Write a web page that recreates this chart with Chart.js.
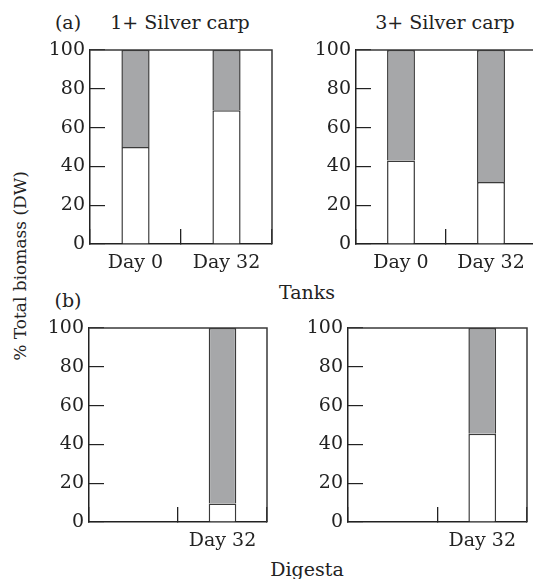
<!DOCTYPE html>
<html>
<head>
<meta charset="utf-8">
<script src="https://cdn.jsdelivr.net/npm/chart.js@4"></script>
<style>
  body { margin: 0; background: #fff; }
  #page { position: relative; width: 533px; height: 579px; overflow: hidden;
          font-family: 'DejaVu Serif', serif; font-size: 19px; color: #222; }
  .lbl { position: absolute; white-space: nowrap; transform: translate(-50%, -50%); }
  canvas { position: absolute; }
</style>
</head>
<body>
<div id="page">
  <div class="lbl" style="left:68px;top:22px">(a)</div>
  <div class="lbl" style="left:180px;top:22px">1+ Silver carp</div>
  <div class="lbl" style="left:445px;top:22px">3+ Silver carp</div>
  <div class="lbl" style="left:307px;top:292px">Tanks</div>
  <div class="lbl" style="left:68px;top:300px">(b)</div>
  <div class="lbl" style="left:307px;top:569px">Digesta</div>
  <div class="lbl" style="left:20px;top:266px;font-size:17px;transform:translate(-50%,-50%) rotate(-90deg)">% Total biomass (DW)</div>

  <canvas id="tanks-1"></canvas>
  <canvas id="tanks-3"></canvas>
  <canvas id="digesta-1"></canvas>
  <canvas id="digesta-3"></canvas>
</div>

<script>
// --- Données (% de la biomasse totale, poids sec) ---
const tankCategories    = ['Day 0', 'Day 32'];
const digestaCategories = ['', 'Day 32'];

const tanks1White   = [50, 69];
const tanks1Grey    = [50, 31];
const tanks3White   = [43, 32];
const tanks3Grey    = [57, 68];
const digesta1White = [null, 9.5];
const digesta1Grey  = [null, 90.5];
const digesta3White = [null, 45.5];
const digesta3Grey  = [null, 54.5];

const yTicks = [0, 20, 40, 60, 80, 100];

// --- Style ---
const COLORS = {
  ink:   '#222',
  edge:  '#3a3a3a',
  grey:  '#a6a7a9',
  white: '#ffffff',
};
const FONT = { family: 'DejaVu Serif', size: 19 };

const Y_AXIS_W  = 60;   // largeur réservée à l'axe y
const X_AXIS_H  = 40;   // hauteur réservée à l'axe x
const PAD_TOP   = 12;
const PAD_RIGHT = 2;

// cadre haut + droite
const framePlugin = {
  id: 'frame',
  afterDatasetsDraw(chart) {
    const { ctx, chartArea: a } = chart;
    ctx.save();
    ctx.strokeStyle = COLORS.edge;
    ctx.lineWidth = 1.5;
    ctx.beginPath();
    ctx.moveTo(a.left, a.top);
    ctx.lineTo(a.right, a.top);
    ctx.lineTo(a.right, a.bottom);
    ctx.stroke();
    ctx.restore();
  },
};

function renderPanel(id, plotBox, labels, white, grey) {
  const canvas = document.getElementById(id);
  canvas.width  = plotBox.width + Y_AXIS_W + PAD_RIGHT;
  canvas.height = plotBox.height + PAD_TOP + X_AXIS_H;
  canvas.style.left = (plotBox.left - Y_AXIS_W) + 'px';
  canvas.style.top  = (plotBox.top - PAD_TOP) + 'px';

  const barStyle = {
    borderColor: COLORS.edge,
    borderWidth: 1.5,
    categoryPercentage: 1,
    barPercentage: 0.31,
  };

  new Chart(canvas, {
    type: 'bar',
    data: {
      labels,
      datasets: [
        { data: white, backgroundColor: COLORS.white, ...barStyle },
        { data: grey,  backgroundColor: COLORS.grey,  ...barStyle },
      ],
    },
    options: {
      responsive: false,
      animation: false,
      layout: { padding: { top: PAD_TOP, right: PAD_RIGHT, left: 0, bottom: 0 } },
      plugins: { legend: { display: false }, tooltip: { enabled: false } },
      scales: {
        x: {
          stacked: true,
          grid: { offset: true, drawOnChartArea: false, tickLength: -15, color: COLORS.ink, lineWidth: 1.3 },
          border: { color: COLORS.ink, width: 1.5 },
          ticks: { color: COLORS.ink, font: FONT, padding: 23, maxRotation: 0 },
          afterFit: s => {
            s.height = X_AXIS_H;
            s.paddingLeft = 0;
            s.paddingRight = 0;
          },
        },
        y: {
          stacked: true,
          min: 0,
          max: 100,
          grid: { drawOnChartArea: false, tickLength: -15, color: COLORS.ink, lineWidth: 1.2 },
          border: { color: COLORS.ink, width: 1.5 },
          ticks: { color: COLORS.ink, font: FONT, padding: 20 },
          afterBuildTicks: s => { s.ticks = yTicks.map(v => ({ value: v })); },
          afterFit: s => {
            s.width = Y_AXIS_W;
            s.paddingTop = 0;
            s.paddingBottom = 0;
          },
        },
      },
    },
    plugins: [framePlugin],
  });
}

// --- Init ---
renderPanel('tanks-1',   { left: 90,  top: 50,  width: 182, height: 194 }, tankCategories,    tanks1White,   tanks1Grey);
renderPanel('tanks-3',   { left: 356, top: 50,  width: 180, height: 194 }, tankCategories,    tanks3White,   tanks3Grey);
renderPanel('digesta-1', { left: 89,  top: 328, width: 178, height: 194 }, digestaCategories, digesta1White, digesta1Grey);
renderPanel('digesta-3', { left: 348, top: 328, width: 179, height: 194 }, digestaCategories, digesta3White, digesta3Grey);
</script>
</body>
</html>
